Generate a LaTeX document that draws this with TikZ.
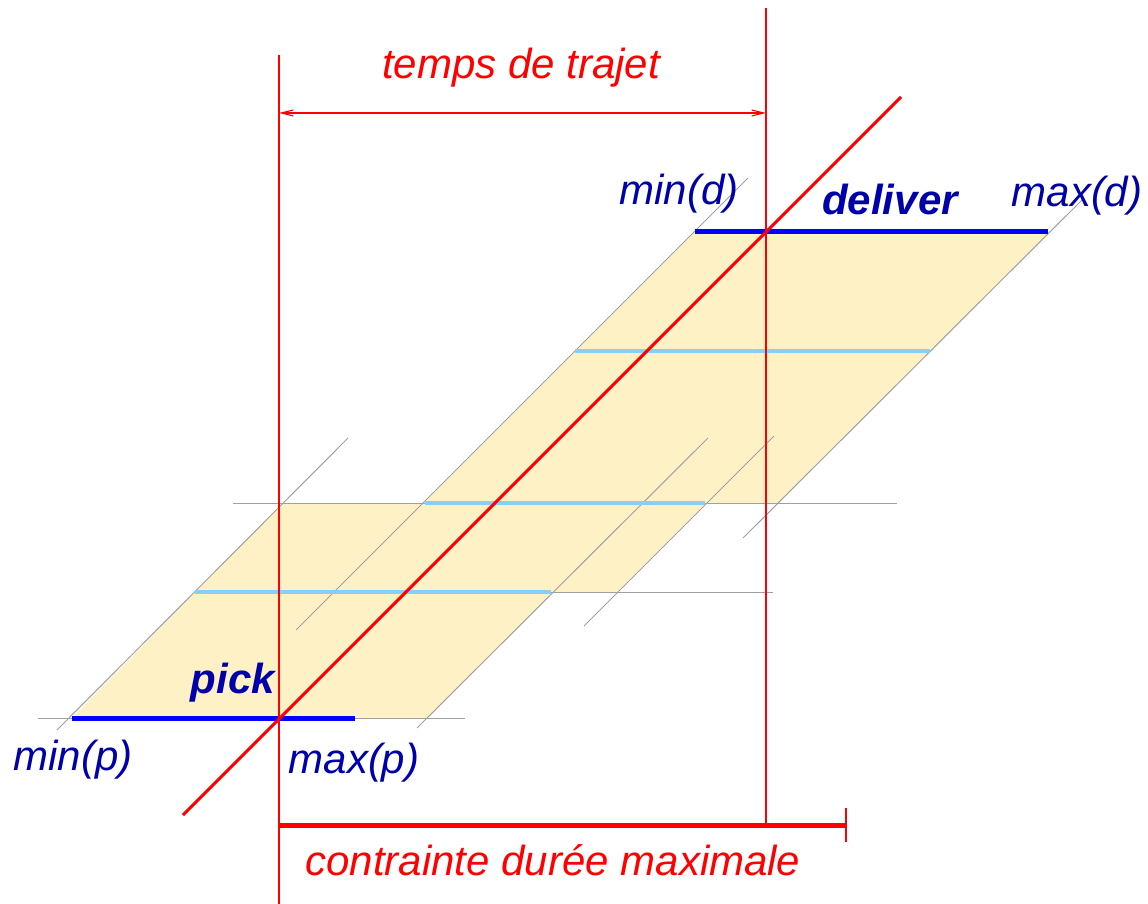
\documentclass[tikz,border=0pt]{standalone}
\usepackage{fontspec}
\setmainfont{Liberation Sans}
\usetikzlibrary{positioning,arrows.meta}
\definecolor{sable}{RGB}{255,241,198}
\definecolor{ciel}{RGB}{135,206,250}
\definecolor{encre}{RGB}{0,0,170}
\definecolor{grille}{RGB}{160,160,160}

\begin{document}
\begin{tikzpicture}[x=0.5pt,y=-0.5pt,
	guide/.style={draw=grille, line width=0.5pt},
	level/.style={draw=ciel, line width=2.4pt},
	window/.style={draw=blue, line width=2.5pt},
	fine/.style={color=red, line width=0.55pt},
	lab/.style={text=encre, font=\fontsize{21}{25}\selectfont\itshape, inner sep=0pt, anchor=base},
	rlab/.style={text=red, font=\fontsize{21}{25}\selectfont\itshape, inner sep=0pt, anchor=base}
	]
	\useasboundingbox (0,0) rectangle (1148,904);

	% windows
	\fill[sable] (72,718) -- (427,718) -- (553,592) -- (195,592) -- cycle;
	\fill[sable] (195,592) -- (618,592) -- (707,503) -- (283,503) -- cycle;
	\fill[sable] (423,503) -- (778,503) -- (1050,232) -- (694,232) -- cycle;

	\draw[guide] (38,718) -- (465,718);
	\draw[guide] (195,592) -- (773,592);
	\draw[guide] (233,503) -- (897,503);
	\draw[guide] (57,730) -- (348,438);
	\draw[guide] (417,728) -- (708,438);
	\draw[guide] (584,626) -- (774,436);
	\draw[guide] (296,630) -- (748,178);
	\draw[guide] (743,538) -- (1082,200);

	\draw[level] (195,592) -- (551,592);
	\draw[level] (425,503) -- (705,503);
	\draw[level] (575,351) -- (930,351);

	\draw[window] (72,718) -- (355,718);
	\draw[window] (695,232) -- (1048,232);

	% red construction
	\coordinate (dtop) at (279,55);
	\coordinate (dbot) at (279,904);
	\coordinate (atop) at (766,8);
	\coordinate (abot) at (766,825);
	\coordinate (tl) at (279,113);
	\coordinate (tr) at (766,113);
	\coordinate (cl) at (279,825);
	\coordinate (cr) at (846,825);
	\coordinate (rs) at (183,815);
	\coordinate (re) at (901,97);

	\draw[fine] (dtop) -- (dbot);
	\draw[fine] (atop) -- (abot);
	\draw[fine, {Straight Barb[length=6pt,width=3pt]}-{Straight Barb[length=6pt,width=3pt]}] (tl) -- (tr);
	\draw[red, line width=1.5pt] (rs) -- (re);
	\draw[red, line width=2.5pt] (cl) -- (cr);
	\draw[fine] ([yshift=-8.5pt]cl) -- ([yshift=8.5pt]cl);
	\draw[fine] ([yshift=-8.5pt]cr) -- ([yshift=8.5pt]cr);

	% labels
	\node[rlab] (trajet) at (521,79) {temps de trajet};
	\node[rlab] (duree) at (553,875) {contrainte durée maximale};
	\node[lab] (mind) at (679,205) {min(d)};
	\node[lab] (maxd) at (1077,207) {max(d)};
	\node[lab, font=\fontsize{21}{25}\selectfont\bfseries\itshape] (deliver) at (890,215) {deliver};
	\node[lab] (minp) at (73,770) {min(p)};
	\node[lab] (maxp) at (354,773) {max(p)};
	\node[lab, font=\fontsize{21}{25}\selectfont\bfseries\itshape] (pick) at (233,693) {pick};
\end{tikzpicture}
\end{document}
